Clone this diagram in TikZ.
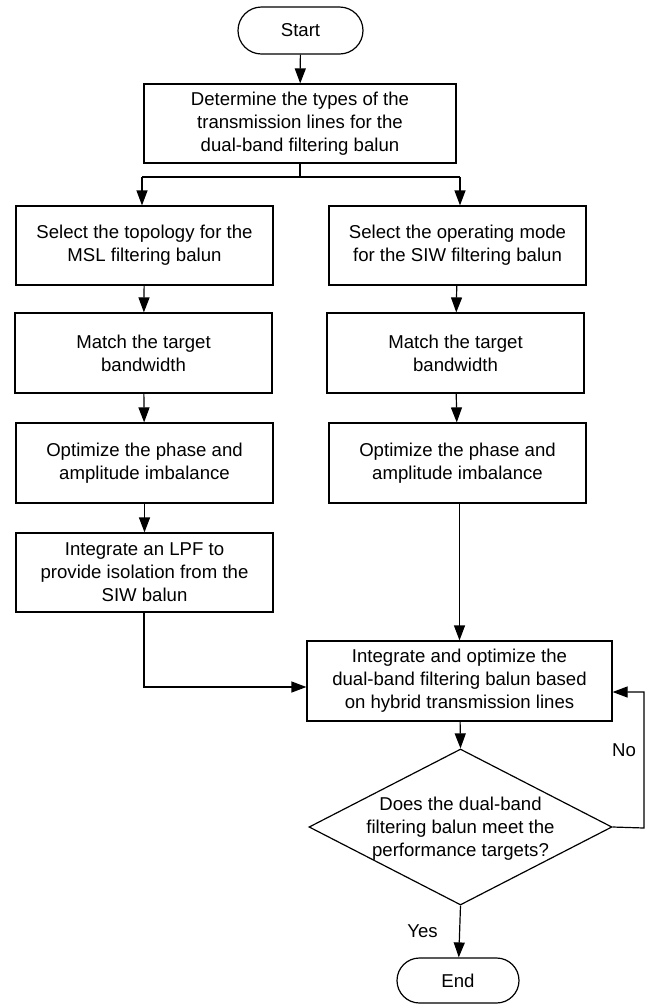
\documentclass[tikz,border=0pt]{standalone}
\usepackage{fontspec}
\setmainfont{Liberation Sans}
\usetikzlibrary{arrows.meta,shapes.misc,shapes.geometric}
\begin{document}
\begin{tikzpicture}[x=1pt,y=-1pt,
  every node/.style={font=\fontsize{18.6}{23}\selectfont, align=center, inner sep=0pt},
  procbox/.style={draw, line width=1.2pt, rectangle},
  termbox/.style={draw, line width=1.2pt, rounded rectangle, minimum height=47pt},
  decbox/.style={draw, line width=1.2pt, diamond, aspect=1.94, minimum width=303pt, minimum height=156pt},
  arr/.style={line width=1.2pt, -{Triangle[length=15pt,width=11pt]}},
  ln/.style={line width=1.2pt}]
\useasboundingbox (0,0) rectangle (648,1005);
\node[termbox, minimum width=125pt] (start) at (300.5,30.5) {Start};
\node[procbox, minimum width=312pt, minimum height=79pt] (det) at (300,123.5) {Determine the types of the\\transmission lines for the\\dual-band filtering balun};
\node[procbox, minimum width=257pt, minimum height=79pt] (l1) at (144.5,245.5) {Select the topology for the\\MSL filtering balun};
\node[procbox, minimum width=257pt, minimum height=80pt] (l2) at (143.5,353) {Match the target\\bandwidth};
\node[procbox, minimum width=257pt, minimum height=80pt] (l3) at (144.5,463) {Optimize the phase and\\amplitude imbalance};
\node[procbox, minimum width=257pt, minimum height=79pt] (l4) at (144.5,572.5) {Integrate an LPF to\\provide isolation from the\\SIW balun};
\node[procbox, minimum width=257pt, minimum height=79pt] (r1) at (457.5,245.5) {Select the operating mode\\for the SIW filtering balun};
\node[procbox, minimum width=257pt, minimum height=80pt] (r2) at (455.5,353) {Match the target\\bandwidth};
\node[procbox, minimum width=257pt, minimum height=80pt] (r3) at (457.5,463) {Optimize the phase and\\amplitude imbalance};
\node[procbox, minimum width=305pt, minimum height=80pt] (int) at (459.5,681) {Integrate and optimize the\\dual-band filtering balun based\\on hybrid transmission lines};
\node[decbox] (dec) at (460.5,827) {};
\node at (460.5,829) {Does the dual-band\\filtering balun meet the\\performance targets?};
\node[termbox, minimum width=122pt, minimum height=45pt] (end) at (458,980.5) {End};
\node (no) at (624,750) {No};
\node (yes) at (422.5,931) {Yes};
\coordinate (split) at (300,177);
\coordinate (sl) at (142,177);
\coordinate (sr) at (460,177);
\coordinate (corner) at (144,687);
\coordinate (fbr) at (644,828);
\coordinate (fbt) at (644,692);
\draw[arr] (start) -- (det);
\draw[ln] (det.south) -- (split);
\draw[ln] (sl) -- (sr);
\draw[arr] (sl) -- (l1.north -| sl);
\draw[arr] (sr) -- (r1.north -| sr);
\draw[arr] (l1) -- (l2);
\draw[arr] (l2) -- (l3);
\draw[arr] (l3) -- (l4);
\draw[arr] (r1) -- (r2);
\draw[arr] (r2) -- (r3);
\draw[arr] (r3.south -| int.north) -- (int.north);
\draw[arr] (l4.south -| corner) -- (corner) -- (corner -| int.west);
\draw[arr] (int) -- (dec.north);
\draw[arr] (dec.east) -- (fbr) -- (fbt) -- (fbt -| int.east);
\draw[arr] (dec.south) -- (end);
\end{tikzpicture}
\end{document}
